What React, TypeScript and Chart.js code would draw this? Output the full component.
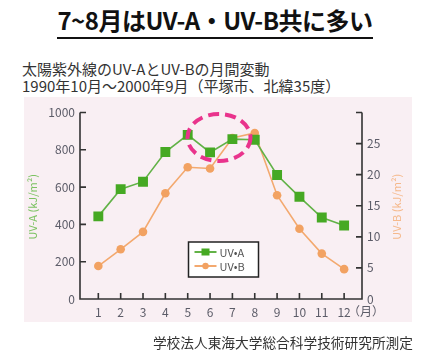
import React, { useEffect, useRef } from "react";
import { Chart, registerables } from "chart.js";

Chart.register(...registerables);

const titleText = "7~8月はUV-A・UV-B共に多い";
const subtitle1 = "太陽紫外線のUV-AとUV-Bの月間変動";
const subtitle2 = "1990年10月～2000年9月（平塚市、北緯35度）";
const footerText = "学校法人東海大学総合科学技術研究所測定";

const months = [1, 2, 3, 4, 5, 6, 7, 8, 9, 10, 11, 12];
const uvA = [443, 589, 629, 788, 880, 786, 857, 854, 665, 548, 437, 394];
const uvB = [5.3, 8.0, 10.8, 17.0, 21.2, 21.0, 25.9, 26.7, 16.7, 11.3, 7.3, 4.8];
const seriesLabels = ["UV•A", "UV•B"];
const axisTitleA = "UV-A (kJ/m²)";
const axisTitleB = "UV-B (kJ/m²)";
const monthUnit = "（月）";
// highlighted region (data units): month centre/half-width, UV-A centre/half-height
const highlight = { x: 6.4, dx: 1.41, y: 866, dy: 126 };

const GREEN = "#46a923";
const GREEN_LINE = "#62b247";
const ORANGE = "#f2a262";
const ORANGE_LINE = "#f3a96f";
const TICK_COLOR = "#5c5c68";
const AXIS_COLOR = "#333333";
const FONT = "'Noto Sans CJK JP', 'Noto Sans', sans-serif";

const decoPlugin = {
  id: "deco",
  beforeDatasetsDraw(chart: any) {
    const { ctx, chartArea, scales } = chart;
    const { left, right, top, bottom } = chartArea;
    ctx.save();
    ctx.strokeStyle = AXIS_COLOR;
    ctx.lineWidth = 1.6;
    ctx.beginPath();
    ctx.moveTo(left, top);
    ctx.lineTo(left, bottom);
    ctx.lineTo(right, bottom);
    ctx.lineTo(right, top);
    // inward ticks
    scales.y.ticks.forEach((t: any) => {
      const py = scales.y.getPixelForValue(t.value);
      ctx.moveTo(left, py);
      ctx.lineTo(left + 6, py);
    });
    scales.y2.ticks.forEach((t: any) => {
      const py = scales.y2.getPixelForValue(t.value);
      ctx.moveTo(right, py);
      ctx.lineTo(right - 6, py);
    });
    scales.x.ticks.forEach((t: any) => {
      const px = scales.x.getPixelForValue(t.value);
      ctx.moveTo(px, bottom);
      ctx.lineTo(px, bottom - 6);
    });
    ctx.stroke();

    // axis titles
    ctx.font = `11px ${FONT}`;
    ctx.textAlign = "center";
    ctx.textBaseline = "middle";
    const midY = (top + bottom) / 2 + 1;
    ctx.save();
    ctx.translate(33, midY);
    ctx.rotate(-Math.PI / 2);
    ctx.fillStyle = "#7cc262";
    ctx.fillText(axisTitleA, 0, 0);
    ctx.restore();
    ctx.save();
    ctx.translate(397, midY);
    ctx.rotate(-Math.PI / 2);
    ctx.fillStyle = "#f5b98c";
    ctx.fillText(axisTitleB, 0, 0);
    ctx.restore();

    // month unit
    ctx.font = `12px ${FONT}`;
    ctx.fillStyle = TICK_COLOR;
    ctx.textAlign = "left";
    const last = months[months.length - 1];
    ctx.fillText(monthUnit, scales.x.getPixelForValue(last) + 4, bottom + 12);
    ctx.restore();
  },
  afterDatasetsDraw(chart: any) {
    const { ctx, scales } = chart;
    ctx.save();
    // highlight ellipse
    const cx = scales.x.getPixelForValue(highlight.x);
    const rx = scales.x.getPixelForValue(highlight.x + highlight.dx) - cx;
    const cy = scales.y.getPixelForValue(highlight.y);
    const ry = cy - scales.y.getPixelForValue(highlight.y + highlight.dy);
    ctx.strokeStyle = "#e9338c";
    ctx.lineWidth = 4;
    ctx.setLineDash([11, 6]);
    ctx.beginPath();
    ctx.ellipse(cx, cy, rx, ry, 0, 0, Math.PI * 2);
    ctx.stroke();
    ctx.setLineDash([]);

    // legend
    const bx = 188.5, by = 242, bw = 70, bh = 35;
    ctx.fillStyle = "#ffffff";
    ctx.fillRect(bx, by, bw, bh);
    ctx.strokeStyle = "#222";
    ctx.lineWidth = 1.5;
    ctx.strokeRect(bx, by, bw, bh);
    const rows = [
      { y: by + 10, line: GREEN_LINE, fill: GREEN, shape: "rect" },
      { y: by + 24, line: ORANGE_LINE, fill: ORANGE, shape: "circle" },
    ];
    ctx.font = `11px ${FONT}`;
    ctx.textBaseline = "middle";
    ctx.textAlign = "left";
    rows.forEach((r, i) => {
      ctx.strokeStyle = r.line;
      ctx.lineWidth = 2;
      ctx.beginPath();
      ctx.moveTo(bx + 6, r.y);
      ctx.lineTo(bx + 28, r.y);
      ctx.stroke();
      ctx.fillStyle = r.fill;
      if (r.shape === "rect") {
        ctx.fillRect(bx + 13, r.y - 3.5, 8, 7);
      } else {
        ctx.beginPath();
        ctx.arc(bx + 17, r.y, 3.2, 0, Math.PI * 2);
        ctx.fill();
      }
      ctx.fillStyle = "#555";
      ctx.fillText(seriesLabels[i], bx + 31, r.y + 0.5);
    });
    ctx.restore();
  },
};

export default function App() {
  const ref = useRef<HTMLCanvasElement>(null);
  useEffect(() => {
    if (!ref.current) return;
    const chart = new Chart(ref.current, {
      type: "line",
      data: {
        datasets: [
          {
            label: seriesLabels[0],
            data: months.map((m, i) => ({ x: m, y: uvA[i] })),
            yAxisID: "y",
            borderColor: GREEN_LINE,
            backgroundColor: GREEN,
            borderWidth: 1.6,
            pointStyle: "rect",
            pointRadius: 7,
            pointBorderWidth: 0,
            pointBackgroundColor: GREEN,
            tension: 0,
          },
          {
            label: seriesLabels[1],
            data: months.map((m, i) => ({ x: m, y: uvB[i] })),
            yAxisID: "y2",
            borderColor: ORANGE_LINE,
            backgroundColor: ORANGE,
            borderWidth: 1.6,
            pointStyle: "circle",
            pointRadius: 4.3,
            pointBorderWidth: 0,
            pointBackgroundColor: ORANGE,
            tension: 0,
          },
        ],
      },
      options: {
        animation: false,
        responsive: false,
        events: [],
        layout: { padding: { left: 24, right: 29, top: 112.5, bottom: 33 } },
        plugins: { legend: { display: false }, tooltip: { enabled: false } },
        scales: {
          x: {
            type: "linear",
            min: 0.18,
            max: 12.8,
            grid: { display: false, drawTicks: false },
            border: { display: false },
            afterBuildTicks: (s: any) => {
              s.ticks = months.map((v) => ({ value: v }));
            },
            afterFit: (s: any) => {
              s.height = 21;
            },
            ticks: {
              padding: 6,
              maxRotation: 0,
              autoSkip: false,
              color: TICK_COLOR,
              font: { family: FONT, size: 12 },
              callback: (v: any) => String(v),
            },
          },
          y: {
            position: "left",
            min: 0,
            max: 1000,
            grid: { display: false, drawTicks: false },
            border: { display: false },
            afterFit: (s: any) => {
              s.width = 56;
            },
            ticks: {
              stepSize: 200,
              padding: 5,
              color: TICK_COLOR,
              font: { family: FONT, size: 12 },
              callback: (v: any) => String(v),
            },
          },
          y2: {
            position: "right",
            min: 0,
            max: 30,
            grid: { display: false, drawTicks: false },
            border: { display: false },
            afterFit: (s: any) => {
              s.width = 50;
            },
            ticks: {
              stepSize: 5,
              padding: 5,
              color: TICK_COLOR,
              font: { family: FONT, size: 12 },
              callback: (v: any) => (v === 30 ? "" : String(v)),
            },
          },
        },
      },
      plugins: [decoPlugin],
    });
    return () => chart.destroy();
  }, []);

  return (
    <div
      style={{
        position: "absolute",
        left: 0,
        top: 0,
        width: 441,
        height: 353,
        background: "#ffffff",
        fontFamily: FONT,
        overflow: "hidden",
      }}
    >
      <div
        style={{
          position: "absolute",
          left: 0,
          width: 430,
          top: 4,
          textAlign: "center",
          fontSize: 24,
          fontWeight: 700,
          color: "#111",
          lineHeight: "32px",
          letterSpacing: "-0.5px",
        }}
      >
        <span style={{ borderBottom: "2px solid #111", paddingBottom: 0 }}>{titleText}</span>
      </div>
      <div
        style={{
          position: "absolute",
          left: 22,
          top: 60,
          fontSize: 15,
          color: "#333",
          lineHeight: "17px",
          whiteSpace: "nowrap",
        }}
      >
        <div>{subtitle1}</div>
        <div>{subtitle2}</div>
      </div>
      <div
        style={{
          position: "absolute",
          left: 24,
          top: 97,
          width: 388,
          height: 225,
          background: "#f9eff3",
        }}
      />
      <canvas
        ref={ref}
        width={441}
        height={353}
        style={{ position: "absolute", left: 0, top: 0, width: 441, height: 353 }}
      />
      <div
        style={{
          position: "absolute",
          right: 28,
          top: 333,
          fontSize: 13.7,
          color: "#333",
          lineHeight: "18px",
          whiteSpace: "nowrap",
        }}
      >
        {footerText}
      </div>
    </div>
  );
}
